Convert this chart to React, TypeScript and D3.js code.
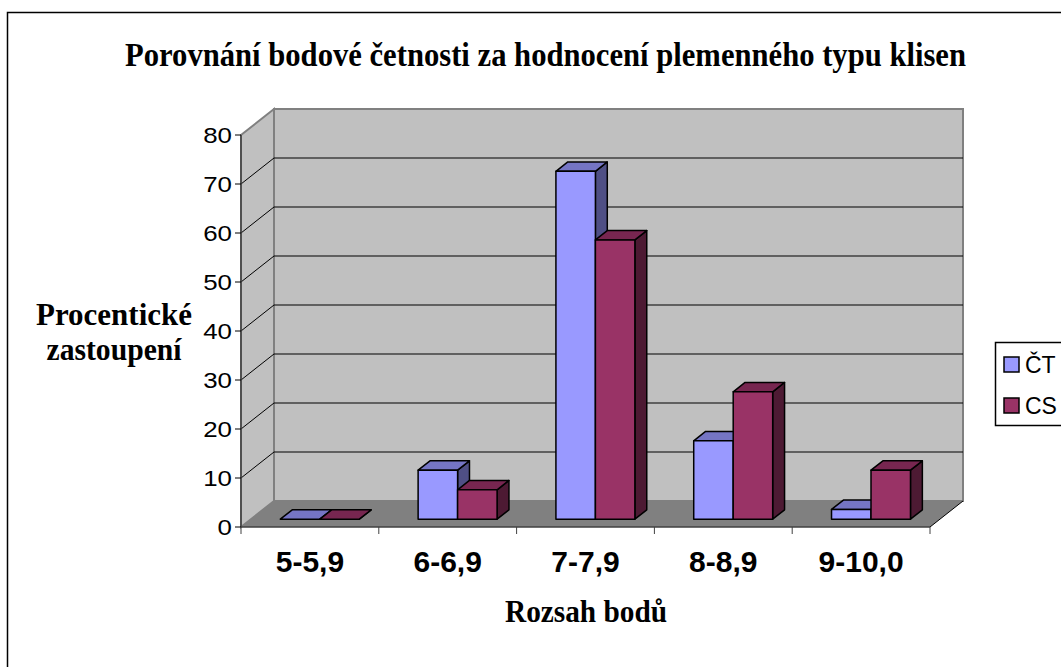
import React from 'react';
import * as d3 from 'd3';

// hodnoty
const categories = ['5-5,9', '6-6,9', '7-7,9', '8-8,9', '9-10,0'];
const seriesNames = ['ČT', 'CS'];
const valuesCT = [0, 10, 71, 16, 2];
const valuesCS = [0, 6, 57, 26, 10];
const yTicks = [0, 10, 20, 30, 40, 50, 60, 70, 80];

const colors = [
  { front: '#9999FF', top: '#7575C4', side: '#4F4F85' },
  { front: '#993366', top: '#772650', side: '#4D1A33' },
];

const W = 1061;
const H = 667;

// 3D posun hloubky (zadní stěna vůči přední rovině)
const DX = 33;
const DY = -26;
const Z0 = 0.3;
const Z1 = 0.66;

const App = () => {
  const x0 = d3.scaleBand<string>().domain(categories).range([241, 930]).paddingInner(0.427).paddingOuter(0.2135);
  const x1 = d3.scaleBand<string>().domain(seriesNames).range([0, x0.bandwidth()]);
  const y = d3.scaleLinear().domain([0, 80]).range([527, 135]);

  const left = 241;
  const right = 930;
  const base = y(0);
  const top = y(80);
  const step = x0.step();
  const boundaries = categories.map(c => (x0(c) as number) - (step * 0.427) / 2).concat([right]);

  const pts = (arr: number[][]) => arr.map(p => p.join(',')).join(' ');

  const bars: JSX.Element[] = [];
  categories.forEach((c, i) => {
    [valuesCT, valuesCS].forEach((vals, s) => {
      const xa = (x0(c) as number) + (x1(seriesNames[s]) as number) + Z0 * DX;
      const xb = xa + x1.bandwidth();
      const yb = base + Z0 * DY;
      const yt = y(vals[i]) + Z0 * DY;
      const ddx = (Z1 - Z0) * DX;
      const ddy = (Z1 - Z0) * DY;
      const col = colors[s];
      bars.push(
        <g key={c + s} stroke="#000" strokeWidth={1.5} strokeLinejoin="round">
          <polygon points={pts([[xb, yt], [xb + ddx, yt + ddy], [xb + ddx, yb + ddy], [xb, yb]])} fill={col.side} />
          <polygon points={pts([[xa, yt], [xa + ddx, yt + ddy], [xb + ddx, yt + ddy], [xb, yt]])} fill={col.top} />
          <rect x={xa} y={yt} width={xb - xa} height={yb - yt} fill={col.front} />
        </g>
      );
    });
  });

  return (
    <svg width={W} height={H} style={{ position: 'absolute', left: 0, top: 0, background: '#fff' }}>
      <rect x={7.5} y={12.5} width={1100} height={700} fill="#fff" stroke="#000" strokeWidth={1.5} />

      <text x={545.5} y={66} textAnchor="middle" fontFamily="Liberation Serif" fontWeight="bold" fontSize={33}
        textLength={841} lengthAdjust="spacingAndGlyphs">
        Porovnání bodové četnosti za hodnocení plemenného typu klisen
      </text>

      {/* stěny a podlaha */}
      <rect x={left + DX} y={top + DY} width={right - left} height={base - top} fill="#C0C0C0" stroke="#808080" strokeWidth={2} />
      <polygon points={pts([[left, top], [left + DX, top + DY], [left + DX, base + DY], [left, base]])} fill="#C0C0C0" stroke="#808080" strokeWidth={2} />
      <polygon points={pts([[left, base], [left + DX, base + DY], [right + DX, base + DY], [right, base]])} fill="#808080" />
      <line x1={right} y1={base} x2={right + DX} y2={base + DY} stroke="#000" strokeWidth={1} />

      {/* mřížka */}
      {yTicks.filter(t => t > 0 && t < 80).map(t => (
        <g key={t} stroke="#000" strokeWidth={1}>
          <line x1={left} y1={y(t)} x2={left + DX} y2={y(t) + DY} />
          <line x1={left + DX} y1={y(t) + DY} x2={right + DX} y2={y(t) + DY} />
        </g>
      ))}

      {/* osa y */}
      <line x1={left} y1={top} x2={left} y2={base} stroke="#404040" strokeWidth={1.5} />
      {yTicks.map(t => (
        <g key={t}>
          <line x1={left - 6} y1={y(t)} x2={left} y2={y(t)} stroke="#000" strokeWidth={1} />
          <text transform={`translate(232,${y(t) + 8}) scale(1.15,1)`} textAnchor="end"
            fontFamily="Liberation Sans" fontSize={22.5} fill="#000">{t}</text>
        </g>
      ))}

      {/* osa x */}
      <line x1={left} y1={base} x2={right} y2={base} stroke="#404040" strokeWidth={1.5} />
      {boundaries.map((b, i) => (
        <line key={i} x1={b} y1={base} x2={b} y2={base + 7} stroke="#404040" strokeWidth={1} />
      ))}
      {categories.map(c => (
        <text key={c} x={(x0(c) as number) + x0.bandwidth() / 2} y={572} textAnchor="middle"
          fontFamily="Liberation Sans" fontWeight="bold" fontSize={30}>{c}</text>
      ))}

      {bars}

      <text x={586} y={622} textAnchor="middle" fontFamily="Liberation Serif" fontWeight="bold" fontSize={31}
        textLength={162} lengthAdjust="spacingAndGlyphs">Rozsah bodů</text>
      <text x={114} y={325} textAnchor="middle" fontFamily="Liberation Serif" fontWeight="bold" fontSize={32}
        textLength={156} lengthAdjust="spacingAndGlyphs">Procentické</text>
      <text x={114} y={360} textAnchor="middle" fontFamily="Liberation Serif" fontWeight="bold" fontSize={32}
        textLength={135} lengthAdjust="spacingAndGlyphs">zastoupení</text>

      {/* legenda */}
      <rect x={995.5} y={342.5} width={100} height={83} fill="#fff" stroke="#000" strokeWidth={1.5} />
      {seriesNames.map((s, i) => (
        <g key={s}>
          <rect x={1004} y={357 + i * 41} width={15} height={15} fill={colors[i].front} stroke="#000" strokeWidth={1.5} />
          <text x={1025} y={373 + i * 41} fontFamily="Liberation Sans" fontSize={23}>{s}</text>
        </g>
      ))}
    </svg>
  );
};

export default App;
